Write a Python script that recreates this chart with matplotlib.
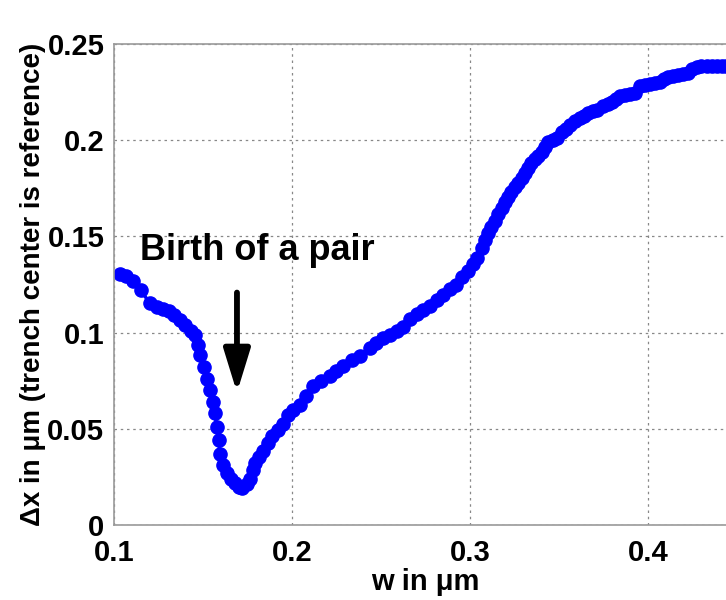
import numpy as np
import matplotlib.pyplot as plt

plt.rcParams['font.family'] = ['Liberation Sans', 'DejaVu Sans']
plt.rcParams['font.weight'] = 'bold'

# w (um) and dx (um)
w = [0.1034, 0.1070, 0.1107, 0.1150, 0.1200, 0.1240, 0.1275, 0.1310, 0.1340, 0.1370,
     0.1400, 0.1430, 0.1455, 0.1470, 0.1485, 0.1505, 0.1520, 0.1540, 0.1555, 0.1567,
     0.1578, 0.1588, 0.1596, 0.1615, 0.1635, 0.1658, 0.1680, 0.1700, 0.1720, 0.1745,
     0.1764, 0.1780, 0.1795, 0.1815, 0.1837, 0.1865, 0.1890, 0.1920, 0.1950, 0.1975,
     0.2006, 0.2045, 0.2080, 0.2118, 0.2165, 0.2213, 0.2250, 0.2287, 0.2335, 0.2382,
     0.2438, 0.2475, 0.2511, 0.2550, 0.2590, 0.2624, 0.2663, 0.2700, 0.2736, 0.2775,
     0.2815, 0.2850, 0.2888, 0.2920, 0.2955, 0.2989, 0.3015, 0.3040, 0.3067, 0.3085,
     0.3101, 0.3120, 0.3140, 0.3160, 0.3180, 0.3197, 0.3213, 0.3233, 0.3253, 0.3272,
     0.3292, 0.3310, 0.3326, 0.3345, 0.3365, 0.3385, 0.3404, 0.3420, 0.3438, 0.3465,
     0.3489, 0.3517, 0.3540, 0.3560, 0.3590, 0.3618, 0.3640, 0.3663, 0.3690, 0.3713,
     0.3747, 0.3775, 0.3798, 0.3820, 0.3843, 0.3870, 0.3900, 0.3927, 0.3955, 0.3985,
     0.4010, 0.4040, 0.4067, 0.4090, 0.4112, 0.4140, 0.4169, 0.4195, 0.4225, 0.4250,
     0.4275, 0.4300, 0.4330, 0.4360, 0.4388, 0.4415, 0.4440, 0.4470]
dx = [0.1307, 0.1295, 0.1270, 0.1220, 0.1155, 0.1135, 0.1125, 0.1110, 0.1090, 0.1065,
      0.1037, 0.1010, 0.0985, 0.0935, 0.0885, 0.0820, 0.0760, 0.0700, 0.0640, 0.0580,
      0.0510, 0.0440, 0.0370, 0.0310, 0.0270, 0.0240, 0.0220, 0.0200, 0.0190, 0.0215,
      0.0240, 0.0285, 0.0320, 0.0355, 0.0386, 0.0425, 0.0464, 0.0495, 0.0526, 0.0570,
      0.0600, 0.0625, 0.0670, 0.0724, 0.0750, 0.0776, 0.0800, 0.0828, 0.0855, 0.0880,
      0.0922, 0.0945, 0.0970, 0.0990, 0.1010, 0.1030, 0.1073, 0.1095, 0.1115, 0.1140,
      0.1167, 0.1195, 0.1225, 0.1245, 0.1287, 0.1320, 0.1355, 0.1386, 0.1438, 0.1480,
      0.1520, 0.1550, 0.1580, 0.1615, 0.1646, 0.1680, 0.1705, 0.1730, 0.1756, 0.1780,
      0.1805, 0.1830, 0.1858, 0.1880, 0.1900, 0.1920, 0.1940, 0.1965, 0.1990, 0.2000,
      0.2010, 0.2040, 0.2060, 0.2080, 0.2098, 0.2115, 0.2128, 0.2140, 0.2150, 0.2157,
      0.2180, 0.2190, 0.2200, 0.2215, 0.2230, 0.2235, 0.2240, 0.2245, 0.2280, 0.2287,
      0.2293, 0.2295, 0.2300, 0.2320, 0.2330, 0.2335, 0.2340, 0.2345, 0.2350, 0.2370,
      0.2380, 0.2385, 0.2385, 0.2385, 0.2385, 0.2385, 0.2385, 0.2385]

xticks = [0.1, 0.2, 0.3, 0.4]
xticklabels = ['0.1', '0.2', '0.3', '0.4']
yticks = [0, 0.05, 0.1, 0.15, 0.2, 0.25]
yticklabels = ['0', '0.05', '0.1', '0.15', '0.2', '0.25']

fig = plt.figure(figsize=(7.26, 6.0), dpi=100)
# axes runs off the right edge like the cropped original
ax = fig.add_axes([0.157, 0.125, 0.858, 0.8017])

ax.plot(w, dx, '-o', color='#0000ff', lw=2.5, ms=9.5, mec='#0000ff')

ax.set_xlim(0.1, 0.45)
ax.set_ylim(0, 0.25)
ax.set_xticks(xticks)
ax.set_xticklabels(xticklabels)
ax.set_yticks(yticks)
ax.set_yticklabels(yticklabels)
ax.tick_params(labelsize=21, length=0, pad=6)
ax.tick_params(axis='x', pad=10)
ax.tick_params(axis='y', pad=7)
ax.grid(True, linestyle=(0, (2, 3)), color='#888888', lw=0.9)
for s in ax.spines.values():
    s.set_color('#999999')
    s.set_linewidth(1.2)

ax.set_xlabel('w in \u03bcm', fontsize=21, fontweight='bold', labelpad=1)
ax.set_ylabel('\u0394x in \u03bcm (trench center is reference)', fontsize=20,
              fontweight='bold', labelpad=1)

ax.annotate('', xy=(0.1691, 0.0688), xytext=(0.1691, 0.1208),
            arrowprops=dict(arrowstyle='-|>,head_width=0.8,head_length=2.6',
                            color='black', lw=4.2, shrinkA=0, shrinkB=0))
ax.text(0.1146, 0.1375, 'Birth of a pair', fontsize=26, fontweight='bold',
        ha='left', va='baseline')

fig.savefig('out.png', dpi=100)
